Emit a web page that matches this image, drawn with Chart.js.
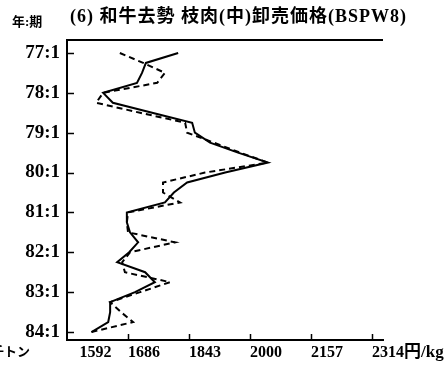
<!DOCTYPE html>
<html>
<head>
<meta charset="utf-8">
<script src="https://cdn.jsdelivr.net/npm/chart.js@4.4.0/dist/chart.umd.min.js"></script>
<style>
  html, body { margin: 0; padding: 0; background: #fff; }
</style>
</head>
<body>
<canvas id="chart" width="448" height="369"></canvas>
<script>
// quarterly series, top to bottom (year:quarter)
const quarters = [
  '77:1','77:2','77:3','77:4','78:1','78:2','78:3','78:4',
  '79:1','79:2','79:3','79:4','80:1','80:2','80:3','80:4',
  '81:1','81:2','81:3','81:4','82:1','82:2','82:3','82:4',
  '83:1','83:2','83:3','83:4','84:1'
];
// observed price (円/kg)
const actual = [
  1815, 1732, 1722, 1709, 1622, 1647, 1748, 1851,
  1858, 1897, 1969, 2046, 1936, 1838, 1804, 1781,
  1683, 1683, 1691, 1712, 1689, 1658, 1730, 1755,
  1704, 1640, 1640, 1635, 1592
];
// model estimate (円/kg)
const fitted = [
  1665, 1725, 1781, 1761, 1622, 1604, 1717, 1833,
  1838, 1907, 1974, 2046, 1884, 1776, 1776, 1820,
  1686, 1683, 1686, 1807, 1691, 1671, 1678, 1794,
  1717, 1640, 1668, 1699, 1592
];
const priceTicks = [1592, 1686, 1843, 2000, 2157, 2314];

const titleText = '(6) 和牛去勢 枝肉(中)卸売価格(BSPW8)';
const serif = '"Liberation Serif", "Noto Sans CJK JP", serif';

const toPoints = arr => arr.map((v, i) => ({ x: v, y: i }));

// frame, inward tick marks and the loose captions
const frame = {
  id: 'frame',
  afterDraw(chart) {
    const { ctx, chartArea: a, scales: { x, y } } = chart;
    ctx.save();
    ctx.strokeStyle = '#000';
    ctx.lineWidth = 2;
    ctx.beginPath();
    ctx.moveTo(a.left, a.top);
    ctx.lineTo(a.right, a.top);
    ctx.stroke();

    ctx.lineWidth = 1.5;
    ctx.beginPath();
    y.ticks.forEach(t => {
      const py = Math.round(y.getPixelForValue(t.value)) + 0.5;
      ctx.moveTo(a.left, py);
      ctx.lineTo(a.left + 7, py);
    });
    x.ticks.forEach(t => {
      if (t.value === priceTicks[0]) return;
      const px = Math.round(x.getPixelForValue(t.value)) + 0.5;
      ctx.moveTo(px, a.bottom);
      ctx.lineTo(px, a.bottom - 6);
    });
    ctx.stroke();

    ctx.fillStyle = '#000';
    ctx.textBaseline = 'middle';

    // lowest price label sits centred on its value, the rest start at their tick
    ctx.font = 'bold 16px ' + serif;
    ctx.textAlign = 'center';
    ctx.fillText(String(priceTicks[0]), x.getPixelForValue(priceTicks[0]) + 4, 353);

    ctx.textAlign = 'left';
    ctx.font = 'bold 18px ' + serif;
    ctx.letterSpacing = '1px';
    ctx.fillText(titleText, 70, 17);
    ctx.letterSpacing = '0px';
    ctx.font = 'bold 13px ' + serif;
    ctx.fillText('年:期', 12, 23);
    ctx.fillText('千トン', -9, 353);
    ctx.font = 'bold 17px ' + serif;
    ctx.fillText('円/kg', 404, 353);
    ctx.restore();
  }
};

new Chart(document.getElementById('chart'), {
  type: 'scatter',
  data: {
    datasets: [
      {
        label: '実績',
        data: toPoints(actual),
        showLine: true,
        borderColor: '#000',
        borderWidth: 2,
        pointRadius: 0,
        tension: 0
      },
      {
        label: '推定',
        data: toPoints(fitted),
        showLine: true,
        borderColor: '#000',
        borderWidth: 2,
        borderDash: [6, 4],
        pointRadius: 0,
        tension: 0
      }
    ]
  },
  options: {
    responsive: false,
    animation: false,
    devicePixelRatio: 1,
    layout: { padding: { top: 40, right: 65, left: 0, bottom: 0 } },
    plugins: {
      legend: { display: false },
      tooltip: { enabled: false },
      title: { display: false }
    },
    scales: {
      x: {
        type: 'linear',
        position: 'bottom',
        min: 1529,
        max: 2342,
        afterBuildTicks: scale => { scale.ticks = priceTicks.map(v => ({ value: v })); },
        afterFit: scale => { scale.height = 29; },
        grid: { display: false, drawTicks: false },
        border: { display: true, color: '#000', width: 2 },
        ticks: {
          align: 'start',
          padding: 3,
          color: '#000',
          font: { family: serif, size: 16, weight: 'bold' },
          callback: v => (v === priceTicks[0] ? '' : String(v))
        }
      },
      y: {
        type: 'linear',
        reverse: true,
        min: -1.3,
        max: 28.8,
        afterBuildTicks: scale => {
          scale.ticks = quarters
            .map((q, i) => ({ q, i }))
            .filter(d => d.q.endsWith(':1'))
            .map(d => ({ value: d.i }));
        },
        afterFit: scale => { scale.width = 67; },
        grid: { display: false, drawTicks: false },
        border: { display: true, color: '#000', width: 2 },
        ticks: {
          padding: 7,
          color: '#000',
          font: { family: serif, size: 19, weight: 'bold' },
          callback: v => quarters[v]
        }
      }
    }
  },
  plugins: [frame]
});
</script>
</body>
</html>
